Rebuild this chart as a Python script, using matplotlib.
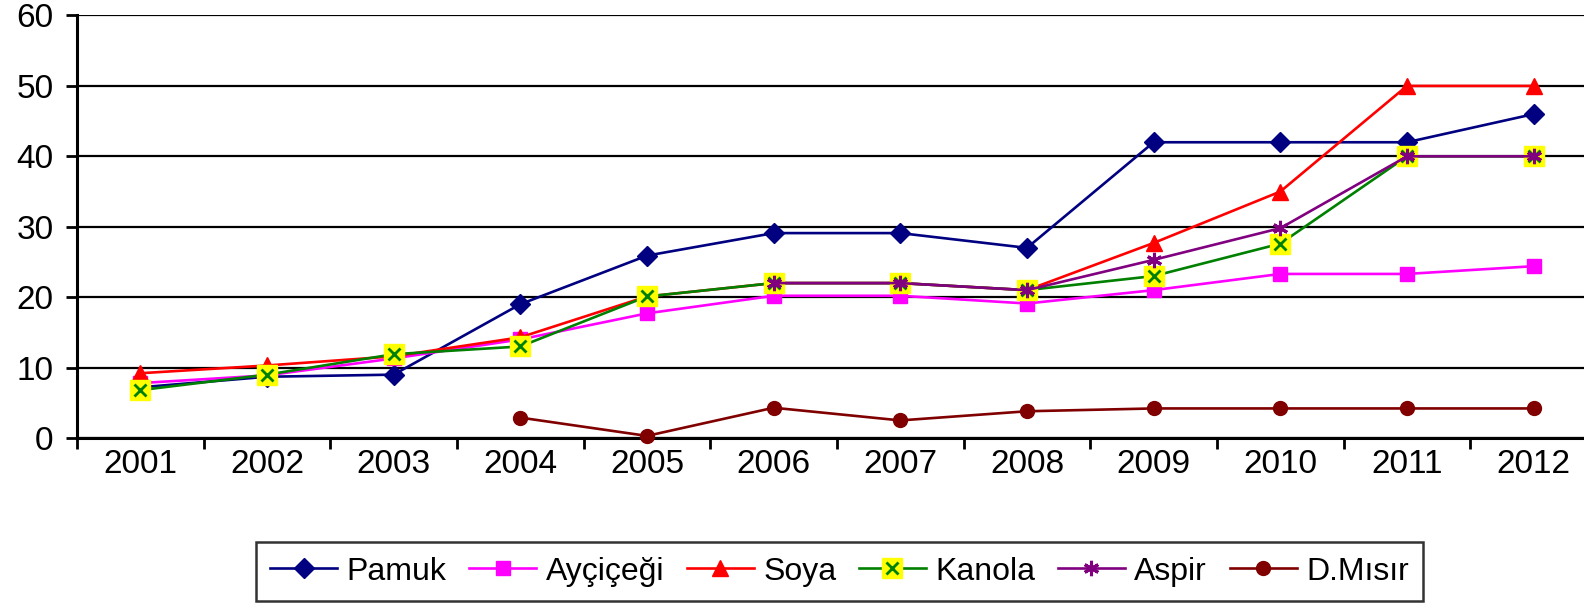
import numpy as np
import matplotlib
matplotlib.use("Agg")
import matplotlib.pyplot as plt
from matplotlib.legend_handler import HandlerTuple

plt.rcParams['font.family'] = ['Liberation Sans', 'DejaVu Sans']

years = ['2001', '2002', '2003', '2004', '2005', '2006',
         '2007', '2008', '2009', '2010', '2011', '2012']
nan = np.nan

pamuk = [7.2, 8.7, 9.0, 19.0, 25.9, 29.1, 29.1, 27.0, 42.0, 42.0, 42.0, 46.0]
aycicegi = [7.8, 8.9, 11.3, 14.0, 17.7, 20.2, 20.2, 19.1, 21.0, 23.3, 23.3, 24.4]
soya = [9.2, 10.3, 11.6, 14.3, 20.1, 22.0, 22.0, 21.0, 27.7, 35.0, 50.0, 50.0]
kanola = [6.8, 9.0, 11.9, 13.0, 20.1, 22.0, 22.0, 21.0, 23.0, 27.6, 40.0, 40.0]
aspir = [nan, nan, nan, nan, nan, 22.0, 22.0, 21.0, 25.3, 29.8, 40.0, 40.0]
d_misir = [nan, nan, nan, 2.9, 0.3, 4.3, 2.5, 3.8, 4.2, 4.2, 4.2, 4.2]

fig = plt.figure(figsize=(15.84, 6.03), dpi=100)
ax = fig.add_axes([0.0486, 0.2736, 0.9596, 0.7007])

x = np.arange(len(years))
lw = 1.9
fs = 24

h_pamuk, = ax.plot(x, pamuk, color='#000080', lw=lw, marker='D', ms=10,
                   label='Pamuk', clip_on=False, zorder=3)
h_ayc, = ax.plot(x, aycicegi, color='#FF00FF', lw=lw, marker='s', ms=10,
                 label='Ayçiçeği', clip_on=False, zorder=3)
h_soya, = ax.plot(x, soya, color='#FF0000', lw=lw, marker='^', ms=12,
                  label='Soya', clip_on=False, zorder=3)
h_kan1, = ax.plot(x, kanola, color='#008000', lw=lw, marker='s', ms=15,
                  mfc='#FFFF00', mec='#FFFF00', clip_on=False, zorder=3)
h_kan2, = ax.plot(x, kanola, color='#008000', lw=0, marker='x', ms=9,
                  mew=2, clip_on=False, zorder=3)
h_aspir, = ax.plot(x, aspir, color='#800080', lw=lw, marker=(6, 2, 0), ms=11,
                   mew=2.2, label='Aspir', clip_on=False, zorder=3)
h_dm, = ax.plot(x, d_misir, color='#800000', lw=lw, marker='o', ms=10,
                label='D.Mısır', clip_on=False, zorder=3)

ax.set_ylim(0, 60)
ax.set_yticks(range(0, 61, 10))
ax.set_xlim(-0.5, len(years) - 0.5)
ax.set_xticks(x)
ax.set_xticklabels(years)
ax.set_xticks(np.arange(-0.5, len(years), 1.0), minor=True)

ax.grid(axis='y', color='black', lw=1.6)
ax.set_axisbelow(True)
for s in ['top', 'right']:
    ax.spines[s].set_visible(False)
for s in ['left', 'bottom']:
    ax.spines[s].set_linewidth(2.2)

ax.tick_params(axis='y', length=8, width=2, pad=9, labelsize=fs)
ax.tick_params(axis='x', which='major', length=0, pad=8, labelsize=fs)
ax.tick_params(axis='x', which='minor', length=8, width=2)

handles = [h_pamuk, h_ayc, h_soya, (h_kan1, h_kan2), h_aspir, h_dm]
labels = ['Pamuk', 'Ayçiçeği', 'Soya', 'Kanola', 'Aspir', 'D.Mısır']
leg = fig.legend(handles, labels, loc='center', bbox_to_anchor=(0.530, 0.052),
                 ncol=6, fontsize=23, frameon=True, fancybox=False,
                 handlelength=2.1, handletextpad=0.3, columnspacing=0.7,
                 borderpad=0.45, handler_map={tuple: HandlerTuple(ndivide=1)})
leg.get_frame().set_edgecolor('black')
leg.get_frame().set_linewidth(1.8)

fig.savefig('out.png', dpi=100)
